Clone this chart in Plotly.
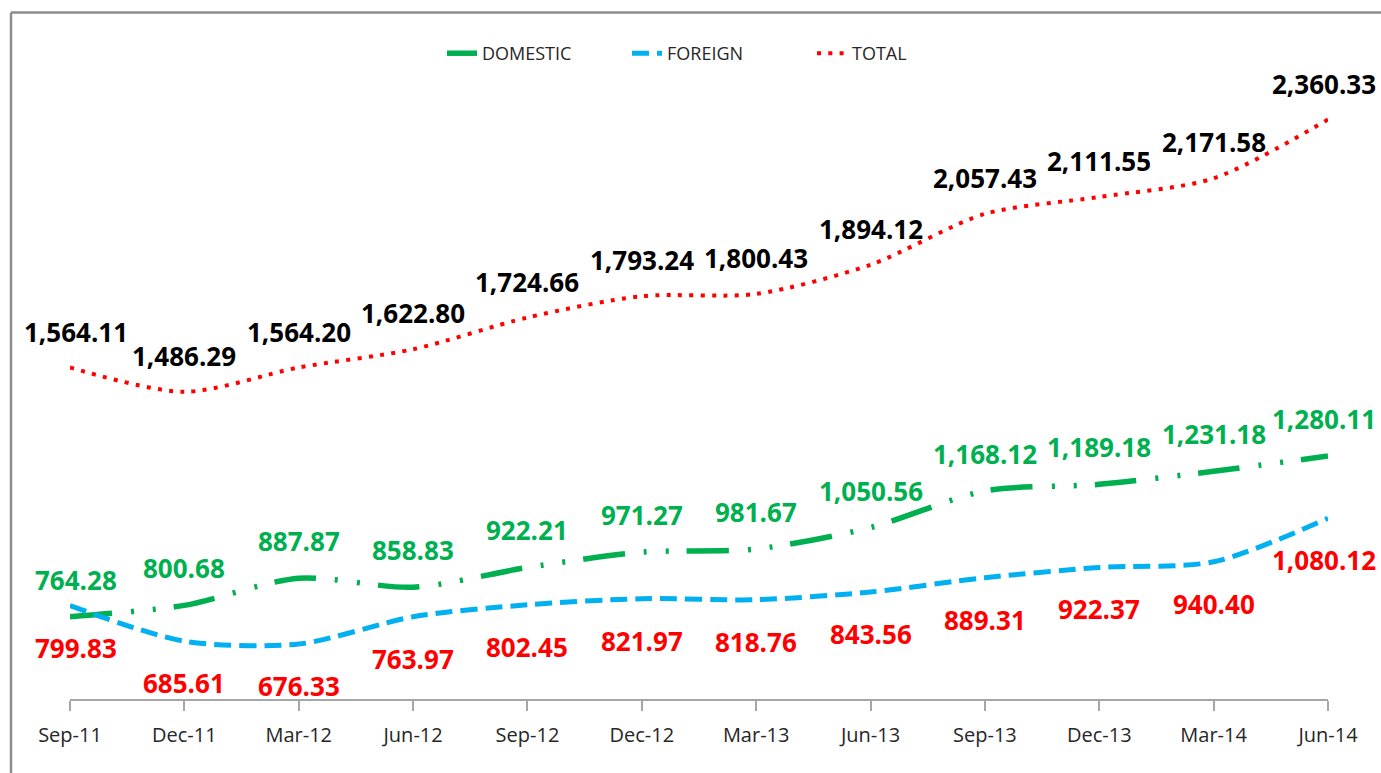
import plotly.graph_objects as go

categories = ["Sep-11", "Dec-11", "Mar-12", "Jun-12", "Sep-12", "Dec-12",
              "Mar-13", "Jun-13", "Sep-13", "Dec-13", "Mar-14", "Jun-14"]
domestic = [764.28, 800.68, 887.87, 858.83, 922.21, 971.27,
            981.67, 1050.56, 1168.12, 1189.18, 1231.18, 1280.11]
foreign = [799.83, 685.61, 676.33, 763.97, 802.45, 821.97,
           818.76, 843.56, 889.31, 922.37, 940.40, 1080.12]
total = [1564.11, 1486.29, 1564.20, 1622.80, 1724.66, 1793.24,
         1800.43, 1894.12, 2057.43, 2111.55, 2171.58, 2360.33]

GREEN = "#00b050"
BLUE = "#00b0f0"
RED = "#ff0000"
FONT = "Open Sans"

fig = go.Figure()
fig.add_trace(go.Scatter(
    x=categories, y=domestic, name="DOMESTIC", mode="lines",
    line=dict(color=GREEN, width=5.5, shape="spline", smoothing=0.8,
              dash="42px,19px,3px,19px,3px,18px"),
    cliponaxis=False))
fig.add_trace(go.Scatter(
    x=categories, y=foreign, name="FOREIGN", mode="lines",
    line=dict(color=BLUE, width=5, shape="spline", smoothing=0.8,
              dash="17px,8px"),
    cliponaxis=False))
fig.add_trace(go.Scatter(
    x=categories, y=total, name="TOTAL", mode="lines",
    line=dict(color=RED, width=4, shape="spline", smoothing=0.8,
              dash="4px,7.3px"),
    cliponaxis=False))

annotations = []
for series, color, shift in [(total, "#000000", 36),
                             (domestic, GREEN, 37),
                             (foreign, RED, -42)]:
    for i, (c, v) in enumerate(zip(categories, series)):
        xs = 0
        if i == len(categories) - 1:
            xs = -4
        elif i == 0:
            xs = 6
        annotations.append(dict(
            x=c, y=v, xref="x", yref="y", text=f"{v:,.2f}",
            showarrow=False, xanchor="center", yanchor="middle",
            yshift=shift, xshift=xs,
            font=dict(family=FONT, size=26, color=color, weight="bold")))

L, R, T, B = 70, 53, 75.5, 74
W, H = 1381, 773
pw = W - L - R
ph = H - T - B


def px_x(p):
    return (p - L) / pw


def px_y(p):
    return (H - B - p) / ph


border = "#8c8c8c"
shapes = [
    dict(type="line", xref="paper", yref="paper",
         x0=px_x(11), x1=px_x(W + 5), y0=px_y(12), y1=px_y(12),
         line=dict(color=border, width=2.5), layer="above"),
    dict(type="line", xref="paper", yref="paper",
         x0=px_x(11), x1=px_x(11), y0=px_y(12), y1=px_y(H + 5),
         line=dict(color=border, width=2.5), layer="above"),
]

fig.update_layout(
    width=W, height=H,
    margin=dict(l=L, r=R, t=T, b=B),
    paper_bgcolor="white", plot_bgcolor="white",
    font=dict(family=FONT, color="#262626"),
    showlegend=True,
    legend=dict(orientation="h", x=px_x(442), xanchor="left",
                y=px_y(53), yanchor="middle",
                entrywidth=140, entrywidthmode="pixels",
                font=dict(family=FONT, size=18, color="#262626"),
                bgcolor="rgba(0,0,0,0)"),
    xaxis=dict(type="category", range=[0, 11], showgrid=False,
               showline=True, linecolor="#a6a6a6", linewidth=1.5,
               ticks="outside", ticklen=10, tickcolor="#a6a6a6",
               tickwidth=1.5, ticklabelstandoff=7,
               tickfont=dict(family=FONT, size=20, color="#262626"),
               zeroline=False),
    yaxis=dict(range=[500, 2500], visible=False, showgrid=False,
               zeroline=False),
    annotations=annotations,
    shapes=shapes,
)

fig.write_html("out.html", config={"displayModeBar": False},
               post_script="document.body.style.margin='0px';")
